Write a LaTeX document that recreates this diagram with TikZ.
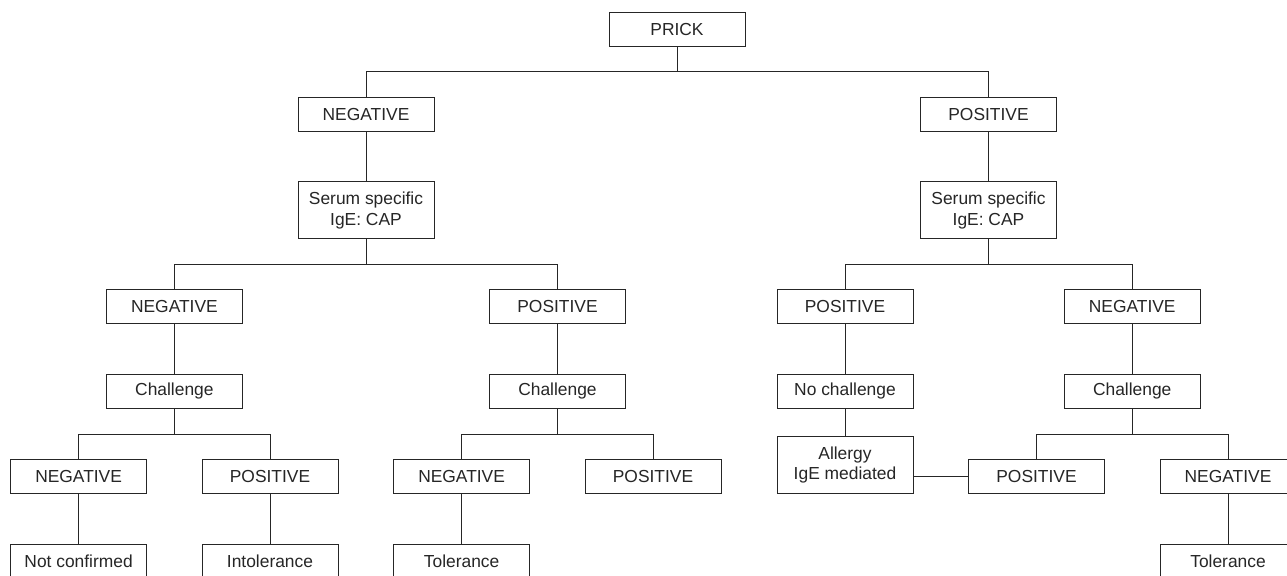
\documentclass[tikz,border=0pt]{standalone}
\usepackage{fontspec}
\setmainfont{Liberation Sans}
\definecolor{ink}{HTML}{262626}
\tikzset{
  % ---- boxes -----------------------------------------------------
  box/.style     = {rectangle, draw=ink, line width=.5pt, fill=white,
                    minimum width=68pt, minimum height=17pt, inner sep=1pt,
                    align=center, text=ink,
                    font=\fontsize{8.7}{10.4}\selectfont},
  tallbox/.style = {box, minimum height=28.7pt},
  % ---- connectors ------------------------------------------------
  link/.style    = {draw=ink, line width=.5pt},
}
\begin{document}
\begin{tikzpicture}[x=0.5pt,y=-0.5pt]
  \useasboundingbox (0,0) rectangle (1287,576);
  \clip (0,0) rectangle (1287,576);
  % level 0 / 1
  \node[box] (prick) at (677,29.3) {PRICK};
  \node[box] (neg) at (366,114.2) {NEGATIVE};
  \node[box] (pos) at (988.5,114.2) {POSITIVE};
  \node[tallbox] (capN) at (366,210.3) {Serum specific\\IgE: CAP};
  \node[tallbox] (capP) at (988.5,210.3) {Serum specific\\IgE: CAP};
  % level 2
  \node[box] (capNneg) at (174.4,306.5) {NEGATIVE};
  \node[box] (capNpos) at (557.5,306.5) {POSITIVE};
  \node[box] (capPpos) at (845,306.5) {POSITIVE};
  \node[box] (capPneg) at (1132.2,306.5) {NEGATIVE};
  \node[box] (chalA) at (174.4,391.5) {Challenge};
  \node[box] (chalB) at (557.5,391.5) {Challenge};
  \node[box] (nochal) at (845,391.5) {No challenge};
  \node[box] (chalD) at (1132.2,391.5) {Challenge};
  % level 3
  \node[box] (chalAneg) at (78.6,476.5) {NEGATIVE};
  \node[box] (chalApos) at (270,476.5) {POSITIVE};
  \node[box] (chalBneg) at (461.6,476.5) {NEGATIVE};
  \node[box] (chalBpos) at (653,476.5) {POSITIVE};
  \node[tallbox] (allergy) at (845,465) {Allergy\\IgE mediated};
  \node[box] (chalDpos) at (1036.5,476.5) {POSITIVE};
  \node[box] (chalDneg) at (1228,476.5) {NEGATIVE};
  % outcomes
  \node[box] (notconf) at (78.6,561.3) {Not confirmed};
  \node[box] (intol) at (270,561.3) {Intolerance};
  \node[box] (tolB) at (461.6,561.3) {Tolerance};
  \node[box] (tolD) at (1228,561.3) {Tolerance};
  % connectors
  \draw[link] (prick.south) -- ++(0,25) -| (neg.north);
  \draw[link] (prick.south) -- ++(0,25) -| (pos.north);
  \draw[link] (neg) -- (capN);
  \draw[link] (pos) -- (capP);
  \draw[link] (capN.south) -- ++(0,25) -| (capNneg.north);
  \draw[link] (capN.south) -- ++(0,25) -| (capNpos.north);
  \draw[link] (capP.south) -- ++(0,25) -| (capPpos.north);
  \draw[link] (capP.south) -- ++(0,25) -| (capPneg.north);
  \draw[link] (capNneg) -- (chalA);
  \draw[link] (capNpos) -- (chalB);
  \draw[link] (capPpos) -- (nochal);
  \draw[link] (capPneg) -- (chalD);
  \draw[link] (chalA.south) -- ++(0,25.3) -| (chalAneg.north);
  \draw[link] (chalA.south) -- ++(0,25.3) -| (chalApos.north);
  \draw[link] (chalB.south) -- ++(0,25.3) -| (chalBneg.north);
  \draw[link] (chalB.south) -- ++(0,25.3) -| (chalBpos.north);
  \draw[link] (chalD.south) -- ++(0,25.3) -| (chalDpos.north);
  \draw[link] (chalD.south) -- ++(0,25.3) -| (chalDneg.north);
  \draw[link] (nochal) -- (allergy);
  \draw[link] (allergy.east |- chalDpos.west) -- (chalDpos.west);
  \draw[link] (chalAneg) -- (notconf);
  \draw[link] (chalApos) -- (intol);
  \draw[link] (chalBneg) -- (tolB);
  \draw[link] (chalDneg) -- (tolD);
\end{tikzpicture}
\end{document}
